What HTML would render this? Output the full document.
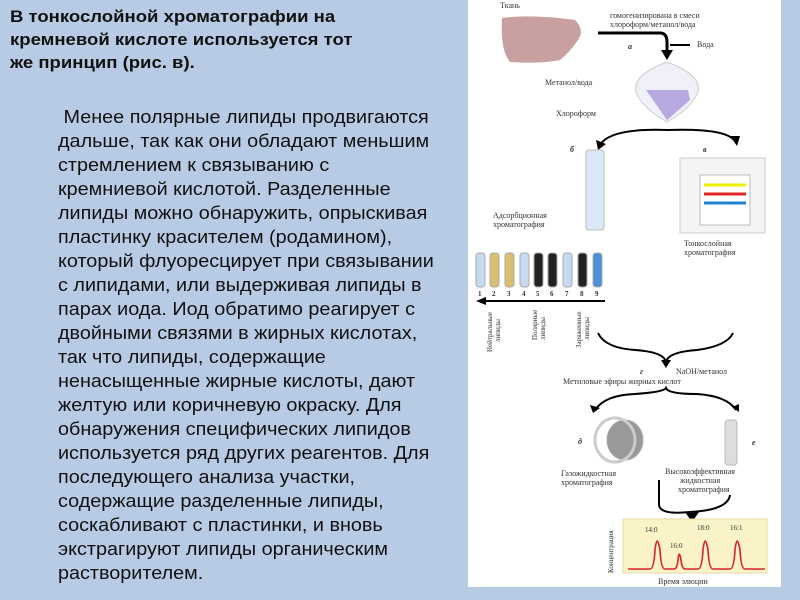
<!DOCTYPE html>
<html><head><meta charset="utf-8"><style>
body{margin:0;width:800px;height:600px;background:#b7cbe5;position:relative;overflow:hidden;font-family:"Liberation Sans","DejaVu Sans",sans-serif}
.t{position:absolute;left:10px;top:5px;font-weight:bold;font-size:17px;line-height:23px;color:#111;transform:scaleX(1.09);transform-origin:0 0;white-space:nowrap}
.b{position:absolute;left:58px;top:105px;font-size:18px;line-height:24px;color:#111;transform:scaleX(1.1);transform-origin:0 0;white-space:nowrap}
svg{position:absolute;left:0;top:0}
</style></head><body>
<div class="t">В тонкослойной хроматографии на<br>кремневой кислоте используется тот<br>же принцип (рис. в).</div>
<div class="b">&nbsp;Менее полярные липиды продвигаются<br>дальше, так как они обладают меньшим<br>стремлением к связыванию с<br>кремниевой кислотой. Разделенные<br>липиды можно обнаружить, опрыскивая<br>пластинку красителем (родамином),<br>который флуоресцирует при связывании<br>с липидами, или выдерживая липиды в<br>парах иода. Иод обратимо реагирует с<br>двойными связями в жирных кислотах,<br>так что липиды, содержащие<br>ненасыщенные жирные кислоты, дают<br>желтую или коричневую окраску. Для<br>обнаружения специфических липидов<br>используется ряд других реагентов. Для<br>последующего анализа участки,<br>содержащие разделенные липиды,<br>соскабливают с пластинки, и вновь<br>экстрагируют липиды органическим<br>растворителем.</div>
<svg width="800" height="600" font-family="Liberation Serif,serif" font-size="8" fill="#333">
<rect x="468" y="0" width="313" height="587" fill="#fff"/>
<text x="500" y="8">Ткань</text>
<path d="M502 18 Q530 14 575 20 Q585 30 578 40 Q570 52 560 60 Q540 64 510 62 Q500 50 502 18Z" fill="#c9a0a0"/>
<text x="610" y="18">гомогенизирована в смеси</text>
<text x="610" y="27">хлороформ/метанол/вода</text>
<path d="M598 33 L660 33 Q667 33 667 42 L667 52" stroke="#000" stroke-width="3" fill="none"/>
<path d="M661 50 L667 60 L673 50Z" fill="#000"/>
<line x1="670" y1="45" x2="690" y2="45" stroke="#000" stroke-width="2"/>
<text x="697" y="47">Вода</text>
<text x="628" y="49" font-weight="bold" font-style="italic">а</text>
<path d="M667 62 Q632 75 636 92 Q642 108 667 122 Q692 108 698 92 Q702 75 667 62Z" fill="#f0f0f8" stroke="#ccc"/>
<path d="M646 90 L688 90 L690 100 L667 120 L660 110 Z" fill="#b8a8e0"/>
<text x="545" y="85">Метанол/вода</text>
<text x="556" y="116">Хлороформ</text>
<path d="M600 145 Q610 128 667 130 Q724 128 734 140" stroke="#000" stroke-width="2" fill="none"/>
<path d="M596 140 L598 150 L606 144Z M730 136 L737 146 L740 136Z" fill="#000"/>
<text x="570" y="152" font-weight="bold" font-style="italic">б</text>
<text x="703" y="152" font-weight="bold" font-style="italic">в</text>
<rect x="586" y="150" width="18" height="80" rx="3" fill="#dbe8f8" stroke="#bbb"/>
<text x="493" y="218">Адсорбционная</text>
<text x="493" y="227">хроматография</text>
<rect x="680" y="158" width="85" height="75" fill="#f4f4f6" stroke="#ccc"/>
<rect x="700" y="175" width="50" height="50" fill="#fff" stroke="#bbb"/>
<line x1="704" y1="185" x2="746" y2="185" stroke="#ee0" stroke-width="3"/>
<line x1="704" y1="194" x2="746" y2="194" stroke="#d22" stroke-width="3"/>
<line x1="704" y1="203" x2="746" y2="203" stroke="#2080d0" stroke-width="3"/>
<text x="684" y="246">Тонкослойная</text>
<text x="684" y="255">хроматография</text>
<g stroke="#aaa" stroke-width="1">
<rect x="476" y="253" width="9" height="34" rx="3" fill="#c8daf2"/>
<rect x="490" y="253" width="9" height="34" rx="3" fill="#d8c070"/>
<rect x="505" y="253" width="9" height="34" rx="3" fill="#d8c070"/>
<rect x="520" y="253" width="9" height="34" rx="3" fill="#c8daf2"/>
<rect x="534" y="253" width="9" height="34" rx="3" fill="#222"/>
<rect x="548" y="253" width="9" height="34" rx="3" fill="#222"/>
<rect x="563" y="253" width="9" height="34" rx="3" fill="#c8daf2"/>
<rect x="578" y="253" width="9" height="34" rx="3" fill="#222"/>
<rect x="593" y="253" width="9" height="34" rx="3" fill="#4a90d8"/>
</g>
<g font-size="7" font-weight="bold">
<text x="478" y="296">1</text><text x="492" y="296">2</text><text x="507" y="296">3</text><text x="522" y="296">4</text><text x="536" y="296">5</text><text x="550" y="296">6</text><text x="565" y="296">7</text><text x="580" y="296">8</text><text x="595" y="296">9</text>
</g>
<line x1="484" y1="301" x2="605" y2="301" stroke="#000" stroke-width="2"/>
<path d="M476 301 L486 297 L486 305Z" fill="#000"/>
<g font-size="7">
<text transform="translate(492,352) rotate(-90)">Нейтральные</text>
<text transform="translate(500,342) rotate(-90)">липиды</text>
<text transform="translate(537,340) rotate(-90)">Полярные</text>
<text transform="translate(545,340) rotate(-90)">липиды</text>
<text transform="translate(581,348) rotate(-90)">Заряженные</text>
<text transform="translate(589,340) rotate(-90)">липиды</text>
</g>
<path d="M598 333 Q605 348 635 350 Q664 352 666 362 Q668 352 697 350 Q727 346 733 333" stroke="#000" stroke-width="2" fill="none"/>
<path d="M661 360 L666 368 L671 360Z" fill="#000"/>
<text x="640" y="374" font-style="italic" font-weight="bold">г</text>
<text x="676" y="374">NaOH/метанол</text>
<text x="563" y="384">Метиловые эфиры жирных кислот</text>
<path d="M595 410 Q605 395 635 394 Q664 392 666 388 Q668 394 697 394 Q727 396 736 410" stroke="#000" stroke-width="2" fill="none"/>
<path d="M590 405 L593 413 L600 408Z M732 407 L739 412 L739 404Z" fill="#000"/>
<ellipse cx="625" cy="440" rx="18" ry="20" fill="#999" stroke="#aaa"/>
<ellipse cx="615" cy="440" rx="20" ry="22" fill="none" stroke="#ccc" stroke-width="3"/>
<text x="578" y="444" font-style="italic" font-weight="bold">д</text>
<rect x="725" y="420" width="12" height="45" rx="3" fill="#ddd" stroke="#bbb"/>
<text x="752" y="445" font-style="italic" font-weight="bold">е</text>
<text x="561" y="476">Газожидкостная</text>
<text x="561" y="485">хроматография</text>
<text x="665" y="474">Высокоэффективная</text>
<text x="680" y="483">жидкостная</text>
<text x="678" y="492">хроматография</text>
<path d="M659 480 L659 505 Q660 515 690 512 Q728 510 730 495" stroke="#000" stroke-width="2" fill="none"/>
<path d="M685 512 L692 522 L699 512Z" fill="#000"/>
<rect x="623" y="519" width="144" height="54" fill="#faf3c8" stroke="#e8d8a0"/>
<path d="M628 569 L650 569 Q654 569 655 550 Q657 532 660 550 Q661 569 665 569 L674 569 Q677 569 678 560 Q679 548 681 560 Q682 569 685 569 L698 569 Q702 569 703 550 Q705 532 708 550 Q709 569 713 569 L730 569 Q734 569 735 550 Q737 532 740 550 Q741 569 745 569 L765 569" stroke="#d22" stroke-width="1.6" fill="none"/>
<g font-size="7"><text x="645" y="532">14:0</text><text x="670" y="548">16:0</text><text x="697" y="530">18:0</text><text x="730" y="530">16:1</text></g>
<text transform="translate(613,573) rotate(-90)" font-size="7">Концентрация</text>
<text x="658" y="584">Время элюции</text>
</svg>
</body></html>
